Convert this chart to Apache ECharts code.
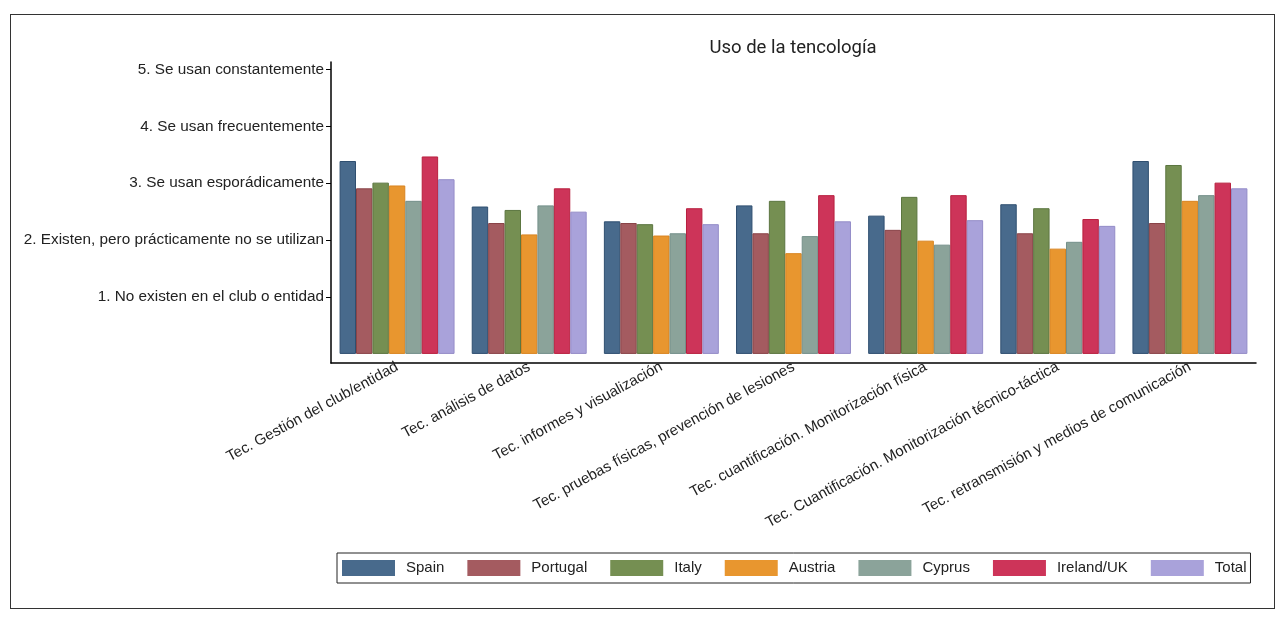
<!DOCTYPE html>
<html>
<head>
<meta charset="utf-8">
<script src="https://cdn.jsdelivr.net/npm/echarts@6/dist/echarts.min.js"></script>
<style>
  html, body { margin: 0; padding: 0; background: #fff; }
  #frame { position: absolute; left: 10px; top: 14px; width: 1263px; height: 593px; border: 1px solid #333; }
  #chart { position: absolute; left: 0; top: 0; width: 1285px; height: 643px; }
</style>
</head>
<body>
<div id="frame"></div>
<div id="chart"></div>
<script>
const categories = [
  'Tec. Gestión del club/entidad',
  'Tec. análisis de datos',
  'Tec. informes y visualización',
  'Tec. pruebas físicas, prevención de lesiones',
  'Tec. cuantificación. Monitorización física',
  'Tec. Cuantificación. Monitorización técnico-táctica',
  'Tec. retransmisión y medios de comunicación'
];
const countries = ['Spain', 'Portugal', 'Italy', 'Austria', 'Cyprus', 'Ireland/UK', 'Total'];
const spain    = [3.39, 2.59, 2.33, 2.61, 2.43, 2.63, 3.39];
const portugal = [2.91, 2.30, 2.30, 2.12, 2.18, 2.12, 2.30];
const italy    = [3.01, 2.53, 2.28, 2.69, 2.76, 2.56, 3.32];
const austria  = [2.96, 2.10, 2.08, 1.77, 1.99, 1.85, 2.69];
const cyprus   = [2.69, 2.61, 2.12, 2.07, 1.92, 1.97, 2.79];
const ireland  = [3.47, 2.91, 2.56, 2.79, 2.79, 2.37, 3.01];
const total    = [3.07, 2.50, 2.28, 2.33, 2.35, 2.25, 2.91];
const levelLabels = {
  1: '1. No existen en el club o entidad',
  2: '2. Existen, pero prácticamente no se utilizan',
  3: '3. Se usan esporádicamente',
  4: '4. Se usan frecuentemente',
  5: '5. Se usan constantemente'
};
const levels = [1, 2, 3, 4, 5];

const colors = ['#486a8c', '#a45b60', '#758f52', '#e8962f', '#8ba39a', '#cd3459', '#a9a2da'];
const borders = ['#2f4f70', '#8a4448', '#5c7640', '#d98420', '#74908a', '#b8203f', '#948cc8'];
const allData = [spain, portugal, italy, austria, cyprus, ireland, total];

const myChart = echarts.init(document.getElementById('chart'));
const font = 'Liberation Sans, Arial, sans-serif';

myChart.setOption({
  animation: false,
  title: {
    text: 'Uso de la tencología',
    left: 788,
    textAlign: 'center',
    top: 34,
    textStyle: { fontFamily: 'Roboto, sans-serif', fontSize: 18.5, fontWeight: 'normal', color: '#222' }
  },
  legend: {
    data: countries,
    left: 337,
    top: 553,
    itemWidth: 53,
    itemHeight: 16,
    itemGap: 23,
    padding: [7, 4, 7, 5],
    borderColor: '#222',
    borderWidth: 1,
    icon: 'rect',
    itemStyle: { borderWidth: 0 },
    textStyle: { fontFamily: font, fontSize: 15, color: '#222', padding: [0, 0, 0, 6] }
  },
  grid: { left: 331, top: 62, right: 29, bottom: 280, containLabel: false },
  xAxis: {
    type: 'category',
    data: categories,
    axisLine: { onZero: false, lineStyle: { color: '#000', width: 1.5 } },
    axisTick: { show: false },
    axisLabel: { rotate: 28.5, margin: 3, interval: 0, fontFamily: font, fontSize: 15, color: '#222' }
  },
  yAxis: {
    type: 'value',
    min: -0.16,
    max: 5.13,
    splitLine: { show: false },
    axisLine: { show: true, lineStyle: { color: '#000', width: 1.5 } },
    axisTick: { show: true, length: 5, customValues: levels, lineStyle: { color: '#000' } },
    axisLabel: {
      customValues: levels,
      margin: 7,
      fontFamily: font,
      fontSize: 15.3,
      color: '#222',
      formatter: v => levelLabels[Math.round(v)] || ''
    }
  },
  series: countries.map((name, i) => ({
    name,
    type: 'bar',
    data: allData[i],
    barGap: '0%',
    barCategoryGap: '13%',
    itemStyle: { color: colors[i], borderColor: borders[i], borderWidth: 1 }
  }))
});
</script>
</body>
</html>
